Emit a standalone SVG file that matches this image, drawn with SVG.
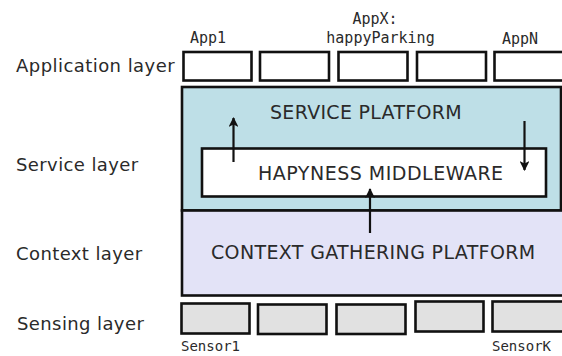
<svg xmlns="http://www.w3.org/2000/svg" width="562" height="356" viewBox="0 0 562 356">
<style>
.lbl{font-family:"DejaVu Sans","Liberation Sans",sans-serif;font-size:18px;fill:#2a2a2a;letter-spacing:0.4px}
.big{font-family:"DejaVu Sans","Liberation Sans",sans-serif;font-size:19px;fill:#2a2a2a}
.mono{font-family:"DejaVu Sans Mono","Liberation Mono",monospace;font-size:15px;fill:#2a2a2a}
.sm{font-size:14px}
.box{stroke:#111;stroke-width:2.6}
.app{fill:#fff}
.sen{fill:#e1e1e1}
.conn{stroke:#111;stroke-width:2.2;fill:none;marker-end:url(#ah)}
</style>
<defs>
<marker id="ah" viewBox="0 0 10 10" refX="9" refY="5" markerWidth="5" markerHeight="4.5" orient="auto" markerUnits="strokeWidth">
<path d="M0,0 L10,5 L0,10 L2.5,5 z" fill="#111"/>
</marker>
</defs>
<rect width="562" height="356" fill="#fff"/>
<g id="layer-labels">
<text class="lbl" x="16" y="72" textLength="159">Application layer</text>
<text class="lbl" x="16" y="171">Service layer</text>
<text class="lbl" x="16" y="260">Context layer</text>
<text class="lbl" x="17" y="330">Sensing layer</text>
</g>
<g id="service-platform">
<rect class="box" x="182" y="87" width="379" height="123.5" fill="#bedfe7"/>
<text class="big" x="270" y="119" letter-spacing="0.3">SERVICE PLATFORM</text>
</g>
<g id="context-platform">
<rect class="box" x="182" y="210.5" width="385" height="85" fill="#e3e3f7"/>
<text class="big" x="211" y="259" letter-spacing="0.35">CONTEXT GATHERING PLATFORM</text>
</g>
<g id="middleware">
<rect class="box" x="202" y="148.5" width="344" height="48" fill="#fff"/>
<text class="big" x="258" y="180" letter-spacing="0.5">HAPYNESS MIDDLEWARE</text>
</g>
<g id="app1"><rect class="box app" x="183.5" y="52" width="68" height="28.5"/><text class="mono" x="190" y="43">App1</text></g>
<g id="app2"><rect class="box app" x="260" y="52" width="69" height="28.5"/></g>
<g id="appX"><rect class="box app" x="338.5" y="52" width="69" height="28.5"/><text class="mono" x="375" y="24" text-anchor="middle">AppX:</text><text class="mono" x="380.5" y="43" text-anchor="middle">happyParking</text></g>
<g id="app4"><rect class="box app" x="417" y="52" width="69" height="28.5"/></g>
<g id="appN"><rect class="box app" x="494.5" y="52" width="72" height="28.5"/><text class="mono" x="502" y="44">AppN</text></g>
<g id="sensor1"><rect class="box sen" x="181.5" y="303.5" width="68" height="30"/><text class="mono sm" x="181" y="351">Sensor1</text></g>
<g id="sensor2"><rect class="box sen" x="258" y="304.5" width="68.5" height="29.5"/></g>
<g id="sensor3"><rect class="box sen" x="336.5" y="304.5" width="69" height="29.5"/></g>
<g id="sensor4"><rect class="box sen" x="415.5" y="301.5" width="68" height="30"/></g>
<g id="sensorK"><rect class="box sen" x="492.5" y="301.5" width="74" height="30"/><text class="mono sm" x="492" y="351">SensorK</text></g>
<g id="connectors">
<line class="conn" x1="233.5" y1="162" x2="233.5" y2="118"/>
<line class="conn" x1="524.5" y1="121" x2="524.5" y2="170"/>
<line class="conn" x1="370" y1="233" x2="370" y2="189"/>
</g>
</svg>
